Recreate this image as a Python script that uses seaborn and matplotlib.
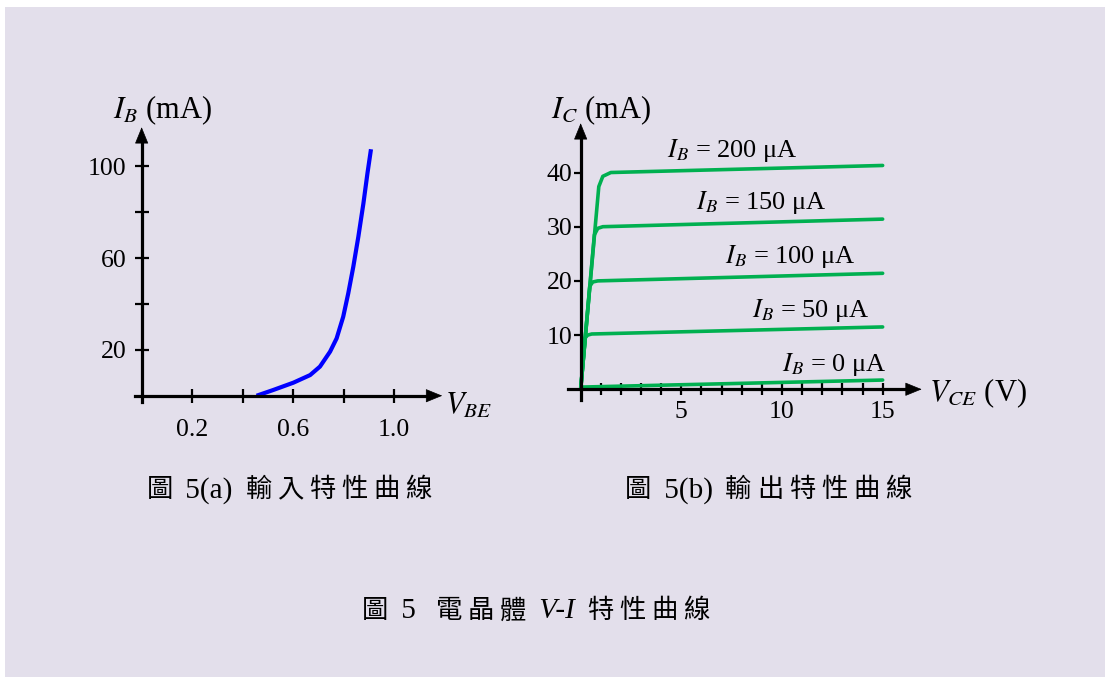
import numpy as np
import pandas as pd
import matplotlib
matplotlib.use("Agg")
import matplotlib.pyplot as plt
import seaborn as sns
from matplotlib.patches import Rectangle
from matplotlib.offsetbox import TextArea, HPacker, AnnotationBbox

# input characteristic
vbe = [0.455, 0.521, 0.601, 0.667, 0.706, 0.746, 0.772, 0.798, 0.818, 0.838, 0.858, 0.878, 0.894, 0.908]
ib = [0.0, 2.5, 5.7, 9.0, 12.7, 19.2, 25.0, 34.4, 44.6, 56.2, 69.3, 83.8, 96.9, 107.4]

# output characteristics
ib_names = ["200", "150", "100", "50", "0"]
vce_200 = [0, 0.90, 1.10, 1.50, 15.0]
ic_200 = [0, 37.4, 39.3, 40.0, 41.3]
vce_150 = [0, 0.68, 0.85, 1.10, 15.0]
ic_150 = [0, 28.5, 29.7, 30.0, 31.4]
vce_100 = [0, 0.45, 0.60, 0.85, 15.0]
ic_100 = [0, 19.0, 19.8, 20.0, 21.4]
vce_50 = [0, 0.22, 0.35, 0.55, 15.0]
ic_50 = [0, 9.5, 10.0, 10.2, 11.5]
vce_0 = [0, 15.0]
ic_0 = [0.4, 1.7]
label_x = [7.54, 8.95, 10.44, 11.43, 12.58]
label_y = [44.1, 34.4, 24.5, 14.6, 4.5]

x1_ticks = [0.2, 0.4, 0.6, 0.8, 1.0]
x1_labels = ["0.2", "", "0.6", "", "1.0"]
y1_ticks = [20, 40, 60, 80, 100]
y1_labels = ["20", "", "60", "", "100"]
x2_ticks = list(range(1, 16))
x2_labels = [str(t) if t % 5 == 0 else "" for t in x2_ticks]
y2_ticks = [10, 20, 30, 40]

curves = pd.concat([
    pd.DataFrame({"VCE": v, "IC": c, "IB": n})
    for v, c, n in zip([vce_200, vce_150, vce_100, vce_50, vce_0],
                       [ic_200, ic_150, ic_100, ic_50, ic_0], ib_names)
])

sns.set_theme(style="ticks")
plt.rcParams["font.family"] = ["Liberation Serif", "Noto Sans CJK TC"]
plt.rcParams["mathtext.fontset"] = "stix"
plt.rcParams["text.color"] = "black"
plt.rcParams["xtick.color"] = "black"
plt.rcParams["ytick.color"] = "black"

BG = "#e3dfeb"
BLUE = "#0000ff"
GREEN = "#00b050"

W, H = 1105, 677
fig = plt.figure(figsize=(W / 100, H / 100), dpi=100, facecolor="white")
fig.patches.append(Rectangle((5 / W, 0), 1, (H - 7) / H, transform=fig.transFigure,
                             facecolor=BG, edgecolor="none", zorder=-10))

ax1 = fig.add_axes([135.1 / W, (H - 401.7) / H, 307.1 / W, 274.5 / H])
ax2 = fig.add_axes([568.0 / W, (H - 400.1) / H, 353.7 / W, 276.9 / H])

sns.lineplot(x=vbe, y=ib, ax=ax1, color=BLUE, lw=3, sort=False, estimator=None,
             solid_joinstyle="round", solid_capstyle="butt")
sns.lineplot(data=curves, x="VCE", y="IC", units="IB", estimator=None, sort=False,
             color=GREEN, lw=2.6, ax=ax2, solid_joinstyle="round")

ax1.set_xlim(-0.026, 1.19)
ax1.set_ylim(-2.6, 117)
ax2.set_xlim(-0.63, 16.94)
ax2.set_ylim(-2.0, 49.1)

head = "-|>,head_length=0.54,head_width=0.22"
for ax, xb, yb, xa, ya in [(ax1, (-0.026, 1.14), (-2.6, 111), (1.12, 1.19), (104, 117)),
                           (ax2, (-0.63, 16.3), (-2.0, 47.0), (16.0, 16.94), (45.0, 49.1))]:
    ax.set_facecolor("none")
    ax.set_xlabel("")
    ax.set_ylabel("")
    for s in ["top", "right"]:
        ax.spines[s].set_visible(False)
    for s in ["left", "bottom"]:
        ax.spines[s].set_position(("data", 0))
        ax.spines[s].set_linewidth(2.3)
        ax.spines[s].set_color("black")
    ax.spines["bottom"].set_bounds(*xb)
    ax.spines["left"].set_bounds(*yb)
    ax.annotate("", xy=(xa[1], 0), xytext=(xa[0], 0),
                arrowprops=dict(arrowstyle=head, color="black", lw=0.5,
                                shrinkA=0, shrinkB=0, mutation_scale=20))
    ax.annotate("", xy=(0, ya[1]), xytext=(0, ya[0]),
                arrowprops=dict(arrowstyle=head, color="black", lw=0.5,
                                shrinkA=0, shrinkB=0, mutation_scale=20))

ax1.set_xticks(x1_ticks, x1_labels)
ax1.set_yticks(y1_ticks, y1_labels)
ax1.tick_params(axis="x", direction="inout", length=10, width=1.6, pad=12, labelsize=18.5)
ax1.tick_params(axis="y", direction="inout", length=10, width=1.6, pad=6, labelsize=18.5)

ax2.set_xticks(x2_ticks, x2_labels)
ax2.set_yticks(y2_ticks, [str(t) for t in y2_ticks])
ax2.tick_params(axis="x", direction="inout", length=9, width=1.6, pad=4, labelsize=18.5)
ax2.tick_params(axis="y", direction="out", length=5, width=1.6, pad=1, labelsize=18.5)

for name, x, y in zip(ib_names, label_x, label_y):
    ax2.text(x, y, r"$I_B$ = " + name + " μA", fontsize=19, ha="center", va="center")

fig.text(163 / W, 1 - 110 / H, r"$I_B$ (mA)", fontsize=22, ha="center", va="center")
fig.text(445 / W, 1 - 406 / H, r"$V_{BE}$", fontsize=22, ha="left", va="center")
fig.text(601 / W, 1 - 110 / H, r"$I_C$ (mA)", fontsize=22, ha="center", va="center")
fig.text(929 / W, 1 - 393 / H, r"$V_{CE}$ (V)", fontsize=22, ha="left", va="center")

cjk = dict(fontsize=19, family=["Noto Sans CJK TC"], color="black")
lat = dict(fontsize=21, family=["Liberation Serif"], color="black")
ita = dict(fontsize=21, family=["Liberation Serif"], style="italic", color="black")


def caption(parts, x, y):
    boxes = []
    for text, props in parts:
        if props is cjk:
            boxes += [TextArea(ch, textprops=props) for ch in text]
        else:
            boxes.append(TextArea(text, textprops=props))
    pack = HPacker(children=boxes, align="baseline", pad=0, sep=4)
    fig.add_artist(AnnotationBbox(pack, (x / W, 1 - y / H), xycoords="figure fraction",
                                  frameon=False, box_alignment=(0.5, 0.5)))


caption([("圖", cjk), (" 5(a) ", lat), ("輸入特性曲線", cjk)], 289, 490)
caption([("圖", cjk), (" 5(b) ", lat), ("輸出特性曲線", cjk)], 768, 490)
caption([("圖", cjk), (" 5  ", lat), ("電晶體", cjk), (" V-I ", ita), ("特性曲線", cjk)], 536, 611)

fig.savefig("out.png", dpi=100, facecolor=fig.get_facecolor())
